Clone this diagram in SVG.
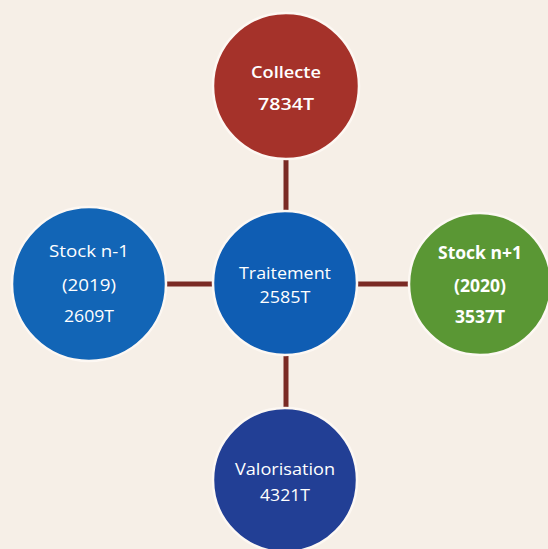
<svg xmlns="http://www.w3.org/2000/svg" width="548" height="549" viewBox="0 0 548 549">
<style>
.bg{fill:#f6efe7}
.node{stroke:#fdf8f3;stroke-width:2.5}
.lbl{font-family:"Open Sans","Liberation Sans",sans-serif;font-size:17px;fill:#ffffff;text-anchor:middle}
.b{font-weight:bold}
.sb{font-weight:600}
.conn{stroke:#7a2a24;stroke-width:5;fill:none}
</style>
<rect class="bg" x="0" y="0" width="548" height="549"/>
<g id="connectors">
<line class="conn" x1="286" y1="160" x2="286" y2="212"/>
<line class="conn" x1="286" y1="354" x2="286" y2="408"/>
<line class="conn" x1="165" y1="284" x2="214" y2="284"/>
<line class="conn" x1="356" y1="284" x2="410" y2="284"/>
</g>
<g id="collecte">
<circle class="node" cx="286" cy="86" r="73" fill="#a5322a"/>
<text class="lbl sb" x="286" y="78" textLength="70" lengthAdjust="spacingAndGlyphs" fill="#f3e6e0">Collecte</text>
<text class="lbl sb" x="286" y="110" textLength="56" lengthAdjust="spacingAndGlyphs">7834T</text>
</g>
<g id="stock-n-1">
<circle class="node" cx="89" cy="284" r="77" fill="#1265b6"/>
<text class="lbl" x="89" y="257" textLength="80" lengthAdjust="spacingAndGlyphs">Stock n-1</text>
<text class="lbl" x="89" y="291" textLength="54" lengthAdjust="spacingAndGlyphs">(2019)</text>
<text class="lbl" x="89" y="322" textLength="50" lengthAdjust="spacingAndGlyphs">2609T</text>
</g>
<g id="traitement">
<circle class="node" cx="285" cy="283" r="72" fill="#0f5db3"/>
<text class="lbl" x="285" y="279" textLength="92" lengthAdjust="spacingAndGlyphs">Traitement</text>
<text class="lbl" x="285" y="303" textLength="51" lengthAdjust="spacingAndGlyphs">2585T</text>
</g>
<g id="stock-n1">
<circle class="node" cx="480" cy="284" r="71" fill="#5a9734"/>
<text class="lbl b" x="480" y="259" textLength="84" lengthAdjust="spacingAndGlyphs">Stock n+1</text>
<text class="lbl b" x="480" y="292" textLength="52" lengthAdjust="spacingAndGlyphs">(2020)</text>
<text class="lbl b" x="480" y="323" textLength="50" lengthAdjust="spacingAndGlyphs">3537T</text>
</g>
<g id="valorisation">
<circle class="node" cx="285" cy="480" r="72" fill="#223f95"/>
<text class="lbl" x="285" y="475" textLength="100" lengthAdjust="spacingAndGlyphs">Valorisation</text>
<text class="lbl" x="285" y="501" textLength="50" lengthAdjust="spacingAndGlyphs">4321T</text>
</g>
</svg>
